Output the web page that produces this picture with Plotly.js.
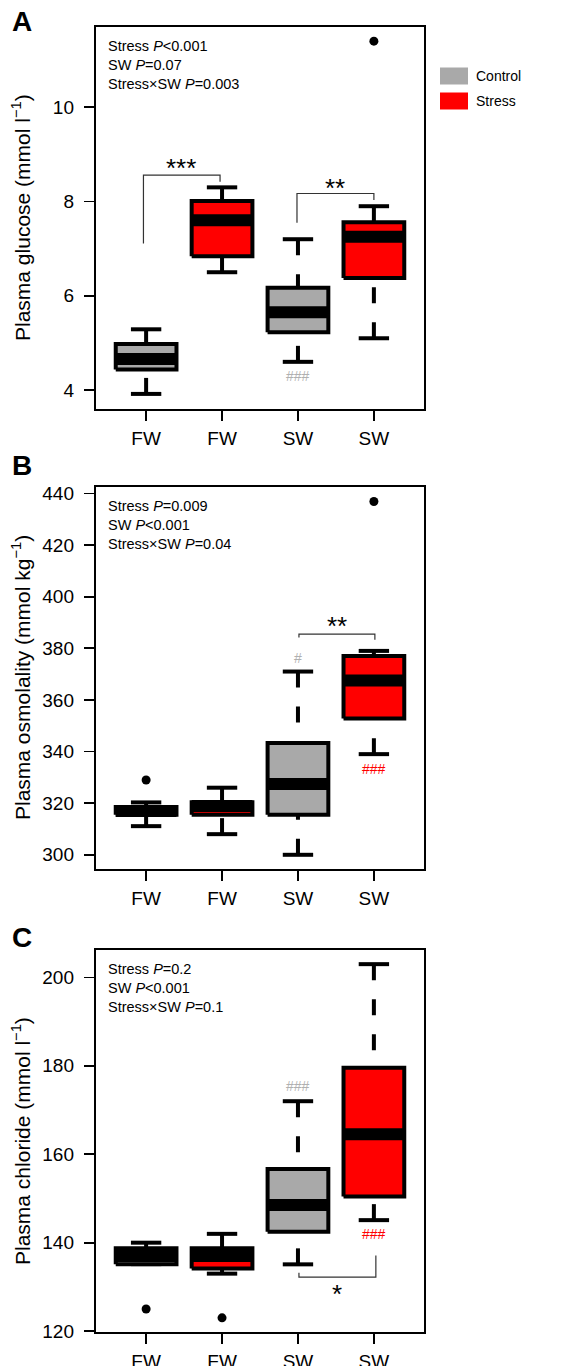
<!DOCTYPE html>
<html><head><meta charset="utf-8">
<script src="https://cdn.plot.ly/plotly-3.0.1.min.js"></script>
<style>html,body{margin:0;padding:0;background:#fff}#chart{width:569px;height:1366px}</style>
</head><body><div id="chart"></div>
<script>
// ---------- data ----------
const groupLabels = ['FW', 'FW', 'SW', 'SW'];
const groupPos = [1, 2, 3, 4];
const treatment = ['Control', 'Stress', 'Control', 'Stress'];

// Panel A: plasma glucose (mmol l-1)
const glucoseLow  = [3.92, 6.50, 4.60, 5.10];
const glucoseQ1   = [4.44, 6.84, 5.23, 6.38];
const glucoseMed  = [4.66, 7.60, 5.65, 7.25];
const glucoseQ3   = [4.98, 8.01, 6.17, 7.56];
const glucoseHigh = [5.29, 8.30, 7.20, 7.90];
const glucoseOutX = [4];
const glucoseOutY = [11.40];

// Panel B: plasma osmolality (mmol kg-1)
const osmoLow  = [311.1, 308.0, 300.0, 339.0];
const osmoQ1   = [315.5, 315.5, 315.5, 352.8];
const osmoMed  = [317.0, 318.9, 327.4, 367.5];
const osmoQ3   = [318.5, 320.4, 343.3, 377.0];
const osmoHigh = [320.3, 326.0, 371.0, 379.0];
const osmoOutX = [1, 4];
const osmoOutY = [329.0, 436.9];

// Panel C: plasma chloride (mmol l-1)
const chlorLow  = [135.15, 133.0, 135.1, 145.1];
const chlorQ1   = [135.15, 134.15, 142.45, 150.45];
const chlorMed  = [137.0, 137.0, 148.5, 164.5];
const chlorQ3   = [138.75, 138.75, 156.65, 179.55];
const chlorHigh = [140.0, 142.0, 172.0, 203.0];
const chlorOutX = [1, 2];
const chlorOutY = [125.0, 123.0];

const statsA = ['Stress <i>P</i><0.001', 'SW <i>P</i>=0.07', 'Stress×SW <i>P</i>=0.003'];
const statsB = ['Stress <i>P</i>=0.009', 'SW <i>P</i><0.001', 'Stress×SW <i>P</i>=0.04'];
const statsC = ['Stress <i>P</i>=0.2', 'SW <i>P</i><0.001', 'Stress×SW <i>P</i>=0.1'];

const colors = {Control: '#A9A9A9', Stress: '#FF0000'};
const FONT = 'Liberation Sans, Arial, Helvetica, sans-serif';

// ---------- build ----------
const traces = [];
const HW = 0.4, CAP = 0.2;

function panel(ax, low, q1, med, q3, high, outX, outY) {
  const xa = 'x' + ax, ya = 'y' + ax;
  const base = {xaxis: xa, yaxis: ya, showlegend: false, hoverinfo: 'skip'};
  // whiskers (dashed, drawn from whisker end toward box)
  groupPos.forEach((x, i) => {
    traces.push(Object.assign({}, base, {type: 'scatter', mode: 'lines', x: [x, x], y: [high[i], q3[i]],
      line: {color: 'black', width: 4, dash: '16px,19px'}}));
    traces.push(Object.assign({}, base, {type: 'scatter', mode: 'lines', x: [x, x], y: [low[i], q1[i]],
      line: {color: 'black', width: 4, dash: '16px,19px'}}));
  });
  // caps
  groupPos.forEach((x, i) => {
    traces.push(Object.assign({}, base, {type: 'scatter', mode: 'lines',
      x: [x - CAP, x + CAP, null, x - CAP, x + CAP], y: [high[i], high[i], null, low[i], low[i]],
      line: {color: 'black', width: 4}}));
  });
  // boxes
  groupPos.forEach((x, i) => {
    traces.push(Object.assign({}, base, {type: 'scatter', mode: 'lines', fill: 'toself',
      fillcolor: colors[treatment[i]],
      x: [x - HW, x + HW, x + HW, x - HW, x - HW], y: [q1[i], q1[i], q3[i], q3[i], q1[i]],
      line: {color: 'black', width: 4}}));
  });
  // medians
  groupPos.forEach((x, i) => {
    traces.push(Object.assign({}, base, {type: 'scatter', mode: 'lines',
      x: [x - HW, x + HW], y: [med[i], med[i]], line: {color: 'black', width: 12}}));
  });
  // outliers
  traces.push(Object.assign({}, base, {type: 'scatter', mode: 'markers', x: outX, y: outY,
    marker: {color: 'black', size: 9, line: {width: 0}}}));
}
panel('', glucoseLow, glucoseQ1, glucoseMed, glucoseQ3, glucoseHigh, glucoseOutX, glucoseOutY);
panel('2', osmoLow, osmoQ1, osmoMed, osmoQ3, osmoHigh, osmoOutX, osmoOutY);
panel('3', chlorLow, chlorQ1, chlorMed, chlorQ3, chlorHigh, chlorOutX, chlorOutY);

// significance brackets
function bracket(ax, xs, ys) {
  traces.push({type: 'scatter', mode: 'lines', x: xs, y: ys, xaxis: 'x' + ax, yaxis: 'y' + ax,
    line: {color: '#333', width: 1.2}, showlegend: false, hoverinfo: 'skip'});
}
bracket('', [0.965, 0.965, 1.974, 1.974], [7.11, 8.56, 8.56, 8.42]);
bracket('', [2.987, 2.987, 4.0, 4.0], [7.55, 8.17, 8.17, 8.03]);
bracket('2', [3.013, 3.013, 4.013, 4.013], [384.2, 385.5, 385.5, 383.3]);
bracket('3', [3.013, 3.013, 4.026, 4.026], [133.2, 132.2, 132.2, 137.1]);

// ---------- layout ----------
const H = 1366, W = 569;
const xDom = [96 / W, 424 / W];
function xax(anchor) {
  return {domain: xDom, anchor: anchor, range: [0.34, 4.66], tickvals: groupPos, ticktext: groupLabels,
    ticks: 'outside', ticklen: 10, tickwidth: 1.8, tickcolor: 'black', showline: true, linewidth: 2.2,
    linecolor: 'black', mirror: true, showgrid: false, zeroline: false,
    tickfont: {size: 19, color: 'black', family: FONT}, ticklabelstandoff: 1};
}
function yax(anchor, top, bottom, range, dtick) {
  return {domain: [1 - bottom / H, 1 - top / H], anchor: anchor, range: range, dtick: dtick,
    ticks: 'outside', ticklen: 10, tickwidth: 1.8, tickcolor: 'black', showline: true, linewidth: 2.2,
    linecolor: 'black', mirror: true, showgrid: false, zeroline: false,
    tickfont: {size: 19, color: 'black', family: FONT}, ticklabelstandoff: 6};
}

const ann = [];
function stats(ax, lines) {
  const ys = [0.949, 0.900, 0.850];
  lines.forEach((t, i) => ann.push({xref: 'x' + ax + ' domain', yref: 'y' + ax + ' domain', x: 0.03, y: ys[i],
    xanchor: 'left', yanchor: 'middle', text: t, showarrow: false, font: {size: 14.5, color: 'black', family: FONT}}));
}
stats('', statsA); stats('2', statsB); stats('3', statsC);

function ytitle(ax, text) {
  ann.push({xref: 'paper', yref: 'y' + ax + ' domain', x: 21 / W, y: 0.5, xanchor: 'center', yanchor: 'middle',
    textangle: -90, text: text, showarrow: false, font: {size: 21, color: 'black', family: FONT}});
}
ytitle('', 'Plasma glucose (mmol l<sup>−1</sup>)');
ytitle('2', 'Plasma osmolality (mmol kg<sup>−1</sup>)');
ytitle('3', 'Plasma chloride (mmol l<sup>−1</sup>)');

function label(txt, yPx) {
  ann.push({xref: 'paper', yref: 'paper', x: 22 / W, y: 1 - yPx / H, xanchor: 'center', yanchor: 'middle',
    text: '<b>' + txt + '</b>', showarrow: false, font: {size: 28, color: 'black', family: FONT}});
}
label('A', 21); label('B', 466); label('C', 937);

function sig(ax, x, y, text, size, color) {
  ann.push({xref: 'x' + ax, yref: 'y' + ax, x: x, y: y, xanchor: 'center', yanchor: 'middle',
    text: text, showarrow: false, font: {size: size, color: color, family: FONT}});
}
sig('', 1.46, 8.70, '***', 26, 'black');
sig('', 3.49, 8.29, '**', 26, 'black');
sig('', 3.0, 4.30, '###', 14, '#B0B0B0');
sig('2', 3.51, 388.8, '**', 26, 'black');
sig('2', 3.0, 376.1, '#', 14, '#B0B0B0');
sig('2', 4.0, 333.1, '###', 14, '#FF0000');
sig('3', 3.52, 128.3, '*', 26, 'black');
sig('3', 3.0, 175.5, '###', 14, '#B0B0B0');
sig('3', 4.0, 141.9, '###', 14, '#FF0000');

// legend (drawn)
const shapes = [];
const legendItems = ['Control', 'Stress'];
const legendY = [76, 101];
legendItems.forEach((name, i) => {
  const y0 = legendY[i] - 8.5, y1 = legendY[i] + 8.5;
  shapes.push({type: 'rect', xref: 'paper', yref: 'paper', x0: 440 / W, x1: 468 / W, y0: 1 - y1 / H, y1: 1 - y0 / H,
    fillcolor: colors[name], line: {width: 0}});
  ann.push({xref: 'paper', yref: 'paper', x: 474 / W, y: 1 - legendY[i] / H, xanchor: 'left', yanchor: 'middle',
    text: name, showarrow: false, font: {size: 14, color: 'black', family: FONT}});
});

const layout = {
  width: W, height: H, margin: {l: 0, r: 0, t: 0, b: 0}, paper_bgcolor: 'white', plot_bgcolor: 'white',
  showlegend: false, font: {family: FONT, color: 'black'},
  xaxis: xax('y'), yaxis: yax('x', 27, 409, [3.6, 11.7], 2),
  xaxis2: xax('y2'), yaxis2: yax('x2', 487, 869, [294.5, 442.5], 20),
  xaxis3: xax('y3'), yaxis3: yax('x3', 950, 1332, [119.8, 206.2], 20),
  annotations: ann, shapes: shapes
};
Plotly.newPlot('chart', traces, layout, {displayModeBar: false, staticPlot: true});
</script></body></html>
